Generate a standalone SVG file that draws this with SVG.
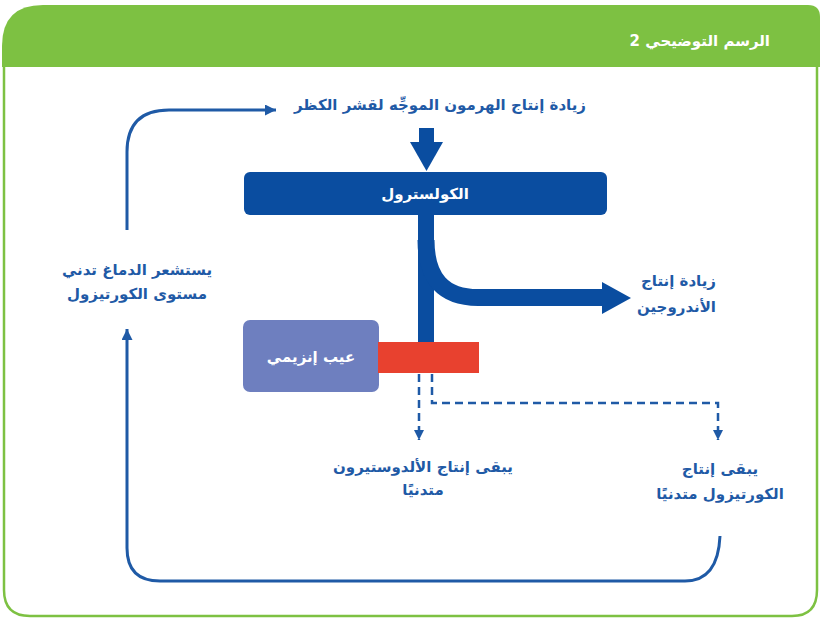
<svg xmlns="http://www.w3.org/2000/svg" width="820" height="619" viewBox="0 0 820 619">
<defs>
<style>
.t{font-family:"DejaVu Sans","Noto Sans",sans-serif;font-weight:bold;fill:#1F5AA6;font-size:15px}
.w{fill:#fff}
.loop{fill:none;stroke:#1F5AA6;stroke-width:3}
.dash{fill:none;stroke:#1F5AA6;stroke-width:2.5;stroke-dasharray:8 5}
</style>
<marker id="ah" viewBox="0 0 10 10" refX="10" refY="5" markerWidth="10" markerHeight="10" markerUnits="userSpaceOnUse" orient="auto"><path d="M0,0 L10,5 L0,10 Z" fill="#1F5AA6"/></marker>
<marker id="ah2" viewBox="0 0 10 10" refX="10" refY="5" markerWidth="11" markerHeight="11" markerUnits="userSpaceOnUse" orient="auto"><path d="M0,0 L10,5 L0,10 Z" fill="#1F5AA6"/></marker>
</defs>
<g id="frame">
<path d="M4,67 L4,590 Q4,616 30,616 L792,616 Q817,616 817,590 L817,67" fill="#fff" stroke="#7DC142" stroke-width="2.5"/>
<path d="M2,67 L2,46 Q2,5 43,5 L808,5 Q820,5 820,17 L820,67 Z" fill="#7DC142"/>
<text class="t w" x="770" y="46" direction="rtl" text-anchor="start" font-size="17">الرسم التوضيحي 2</text>
</g>
<g id="connectors">
<path d="M426.5,128 L426.5,143" stroke="#0A4DA0" stroke-width="15" fill="none"/>
<path d="M410,142 L443,142 L426.5,171 Z" fill="#0A4DA0"/>
<path d="M426,214 L426,343" stroke="#0A4DA0" stroke-width="16" fill="none"/>
<path d="M426,240 Q426,297.5 478,297.5 L604,297.5" stroke="#0A4DA0" stroke-width="17" fill="none"/>
<path d="M602,282 L631,298 L602,314 Z" fill="#0A4DA0"/>
<path class="dash" d="M419,374 L419,440" marker-end="url(#ah)"/>
<path class="dash" d="M432,374 L432,403 L718,403 L718,440" marker-end="url(#ah)"/>
<path class="loop" d="M127,230 L127,152 Q127,110 169,110 L276,110" marker-end="url(#ah2)"/>
<path class="loop" d="M720,536 Q718,581 685,581 L160,581 Q127,581 127,548 L127,329" marker-end="url(#ah2)"/>
</g>
<g id="acth">
<text class="t" x="440" y="110" text-anchor="middle" font-size="15.5">زيادة إنتاج الهرمون الموجِّه لقشر الكظر</text>
</g>
<g id="cholesterol">
<rect x="244" y="172" width="363" height="43" rx="6" fill="#0A4DA0"/>
<text class="t w" x="425" y="199" text-anchor="middle">الكولسترول</text>
</g>
<g id="androgen">
<text class="t" x="716" y="286" direction="rtl" text-anchor="start">زيادة إنتاج</text>
<text class="t" x="716" y="312" direction="rtl" text-anchor="start">الأندروجين</text>
</g>
<g id="enzyme">
<rect x="243" y="320" width="136" height="72" rx="7" fill="#6E7FBF"/>
<text class="t w" x="311" y="362" text-anchor="middle">عيب إنزيمي</text>
</g>
<g id="block">
<rect x="378" y="342" width="101" height="31" fill="#E8412F"/>
</g>
<g id="aldosterone">
<text class="t" x="423" y="472" text-anchor="middle">يبقى إنتاج الألدوستيرون</text>
<text class="t" x="423" y="495" text-anchor="middle">متدنيًا</text>
</g>
<g id="cortisol">
<text class="t" x="720" y="474" text-anchor="middle">يبقى إنتاج</text>
<text class="t" x="720" y="499" text-anchor="middle">الكورتيزول متدنيًا</text>
</g>
<g id="brain">
<text class="t" x="137" y="275" text-anchor="middle">يستشعر الدماغ تدني</text>
<text class="t" x="137" y="299" text-anchor="middle">مستوى الكورتيزول</text>
</g>
</svg>
